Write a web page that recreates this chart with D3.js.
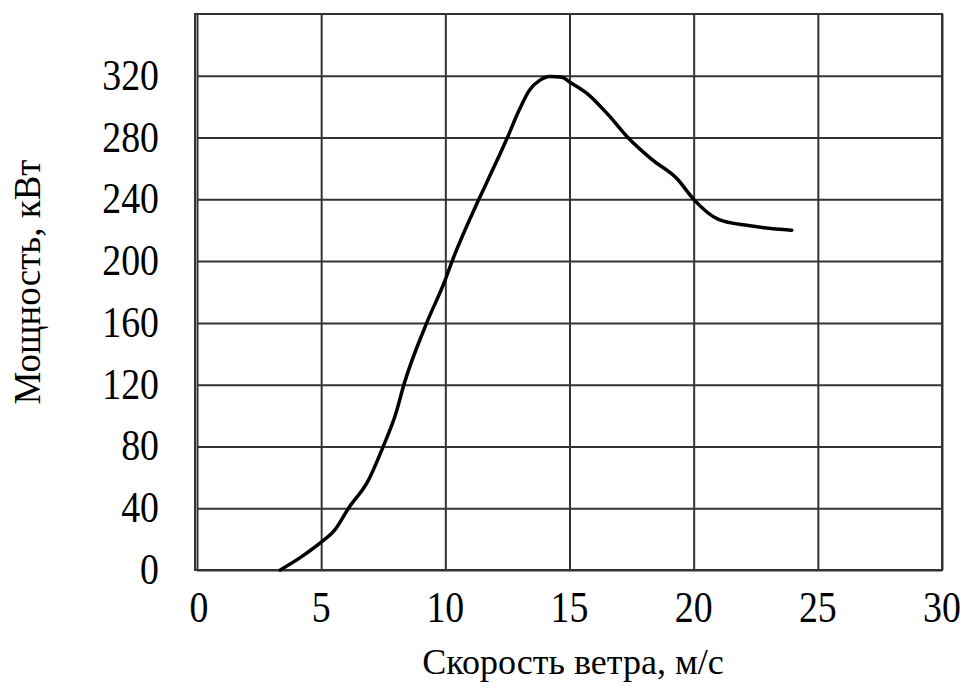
<!DOCTYPE html>
<html>
<head>
<meta charset="utf-8">
<script src="https://cdn.jsdelivr.net/npm/d3@7"></script>
<style>
  body { margin: 0; background: #fff; }
  text { font-family: "Liberation Serif", "Times New Roman", serif; fill: #000; }
</style>
</head>
<body>
<script>
let width = 970,
    height = 695;

// wind speed, m/s
let speed = [3.35, 4.2, 5.0, 5.55, 6.1, 6.9, 7.5, 8.0, 8.35, 9.25, 10.0, 10.25, 11.35, 11.7, 12.5, 12.95, 13.4, 13.8, 14.2, 14.7, 15.0, 15.75, 16.6, 17.35, 18.3, 19.35, 20.0, 21.0, 22.2, 23.95];
// power, kW
let power = [0, 8.5, 18, 26, 40, 58, 80, 101, 121, 160, 188, 199, 240, 252, 280, 297, 311, 317, 319.5, 319, 316, 308, 294, 280, 266, 253, 240, 227, 223, 220];

let xTicks = [0, 5, 10, 15, 20, 25, 30];
let yTicks = [0, 40, 80, 120, 160, 200, 240, 280, 320];

let xLabel = "Скорость ветра, м/с";
let yLabel = "Мощность, кВт";

let svg = d3.select("body")
            .append("svg")
            .attr("width", width)
            .attr("height", height);

let xScale = d3.scaleLinear()
               .domain([0, 30])
               .range([197, 942]);

let yScale = d3.scaleLinear()
               .domain([0, 360])
               .range([570, 14]);

// grid lines (drawn as axes with long ticks)
let xGrid = d3.axisBottom(xScale).tickValues(xTicks).tickSize(-(570 - 14)).tickFormat("");
let yGrid = d3.axisLeft(yScale).tickValues(yTicks).tickSize(-(942 - 197)).tickFormat("");

svg.append("g")
   .attr("transform", "translate(0,570)")
   .call(xGrid)
   .call(g => g.select(".domain").remove())
   .selectAll("line").attr("stroke", "#333").attr("stroke-width", 2);

svg.append("g")
   .attr("transform", "translate(197,0)")
   .call(yGrid)
   .call(g => g.select(".domain").remove())
   .selectAll("line").attr("stroke", "#333").attr("stroke-width", 2);

// frame
svg.append("rect")
   .attr("x", xScale(0) - 2)
   .attr("y", yScale(360))
   .attr("width", xScale(30) - xScale(0) + 2)
   .attr("height", yScale(0) - yScale(360))
   .attr("fill", "none")
   .attr("stroke", "#333")
   .attr("stroke-width", 2);

// tick labels (slightly condensed, like the scanned original)
svg.append("g")
   .selectAll("text")
   .data(xTicks)
   .enter()
   .append("text")
   .attr("transform", d => "translate(" + (xScale(d) + (d === 0 ? 2 : 0)) + ",622) scale(0.86,1)")
   .attr("text-anchor", "middle")
   .style("font-size", "44px")
   .text(d => d);

svg.append("g")
   .selectAll("text")
   .data(yTicks)
   .enter()
   .append("text")
   .attr("transform", d => "translate(159," + (yScale(d) + 14) + ") scale(0.86,1)")
   .attr("text-anchor", "end")
   .style("font-size", "44px")
   .text(d => d);

// axis titles
svg.append("text")
   .attr("x", 573)
   .attr("y", 674)
   .attr("text-anchor", "middle")
   .style("font-size", "36px")
   .text(xLabel);

svg.append("text")
   .attr("transform", "translate(40,282) rotate(-90)")
   .attr("text-anchor", "middle")
   .style("font-size", "37px")
   .text(yLabel);

// curve
let pts = speed.map((s, i) => [s, power[i]]);
let line = d3.line()
             .x(d => xScale(d[0]))
             .y(d => yScale(d[1]))
             .curve(d3.curveMonotoneX);

svg.append("path")
   .datum(pts)
   .attr("d", line)
   .attr("fill", "none")
   .attr("stroke", "#000")
   .attr("stroke-width", 3.5)
   .attr("stroke-linejoin", "round")
   .attr("stroke-linecap", "round");
</script>
</body>
</html>
